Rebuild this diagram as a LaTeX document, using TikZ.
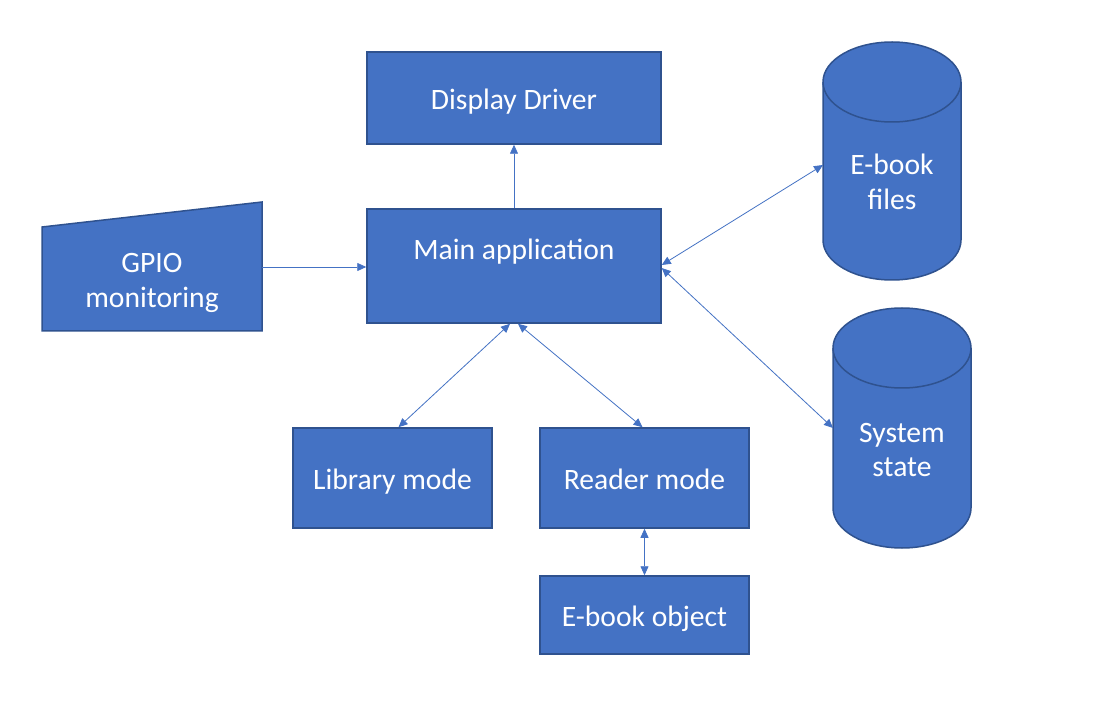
\documentclass[tikz,border=0pt]{standalone}
\usepackage{fontspec}
\setmainfont{Carlito}
\usetikzlibrary{arrows.meta}
\definecolor{boxfill}{HTML}{4472C4}
\definecolor{boxline}{HTML}{2F528F}
\definecolor{arrowc}{HTML}{4472C4}
\begin{document}
\begin{tikzpicture}[x=1pt,y=1pt,
  font=\fontsize{29.6}{34.5}\selectfont,
  blk/.style={draw=boxline, fill=boxfill, line width=1.5pt, text=white, inner sep=0pt, align=center, text height=27pt, text depth=4.2pt},
  con/.style={draw=arrowc, line width=0.8pt},
  tip/.style={-{Triangle[length=9pt,width=8pt]}},
  tips/.style={{Triangle[length=9pt,width=8pt]}-{Triangle[length=9pt,width=8pt]}},
  lbl/.style={text=white, align=center, inner sep=0pt}]
\useasboundingbox (0,0) rectangle (1093,-703);
\fill[white] (0,0) rectangle (1093,-703);

% rectangles
\node[blk, minimum width=294pt, minimum height=92pt] (disp) at (514,-98) {Display Driver};
\node[blk, minimum width=294pt, minimum height=114pt, text height=8pt, text depth=21.2pt] (main) at (514,-266) {Main application};
\node[blk, minimum width=199pt, minimum height=100pt] (lib) at (392.5,-478) {Library mode};
\node[blk, minimum width=209pt, minimum height=100pt] (read) at (644.5,-478) {Reader mode};
\node[blk, minimum width=209pt, minimum height=78pt] (obj) at (644.5,-615) {E-book object};

% GPIO trapezoid
\draw[draw=boxline, fill=boxfill, line width=1.5pt] (42,-227) -- (262,-202) -- (262,-331) -- (42,-331) -- cycle;
\node[lbl] (gpio) at (152,-283) {GPIO\\monitoring};
\coordinate (gpioR) at (262,-267);

% cylinders
\draw[draw=boxline, fill=boxfill, line width=1.5pt]
  (823,-82) -- (823,-240) arc (180:360:69 and 40) -- (961,-82) arc (0:180:69 and 40) -- cycle;
\draw[draw=boxline, line width=1.5pt] (823,-82) arc (180:360:69 and 40);
\node[lbl] (files) at (892,-182) {E-book\\files};
\coordinate (filesL) at (823,-165);

\draw[draw=boxline, fill=boxfill, line width=1.5pt]
  (833,-348) -- (833,-508) arc (180:360:69 and 40) -- (971,-348) arc (0:180:69 and 40) -- cycle;
\draw[draw=boxline, line width=1.5pt] (833,-348) arc (180:360:69 and 40);
\node[lbl] (state) at (902,-450) {System\\state};
\coordinate (stateL) at (833,-428);

% connectors
\draw[con, tip] (main.north) -- (disp.south);
\draw[con, tip] (gpioR) -- (main.west |- gpioR);
\draw[con, tips] ([xshift=-4pt]main.south) -- ([xshift=6pt]lib.north);
\draw[con, tips] ([xshift=4pt]main.south) -- ([xshift=-2pt]read.north);
\draw[con, tips] (read.south) -- (obj.north);
\draw[con, tips] ([yshift=1pt]main.east) -- (filesL);
\draw[con, tips] ([yshift=-2pt]main.east) -- (stateL);
\end{tikzpicture}
\end{document}
